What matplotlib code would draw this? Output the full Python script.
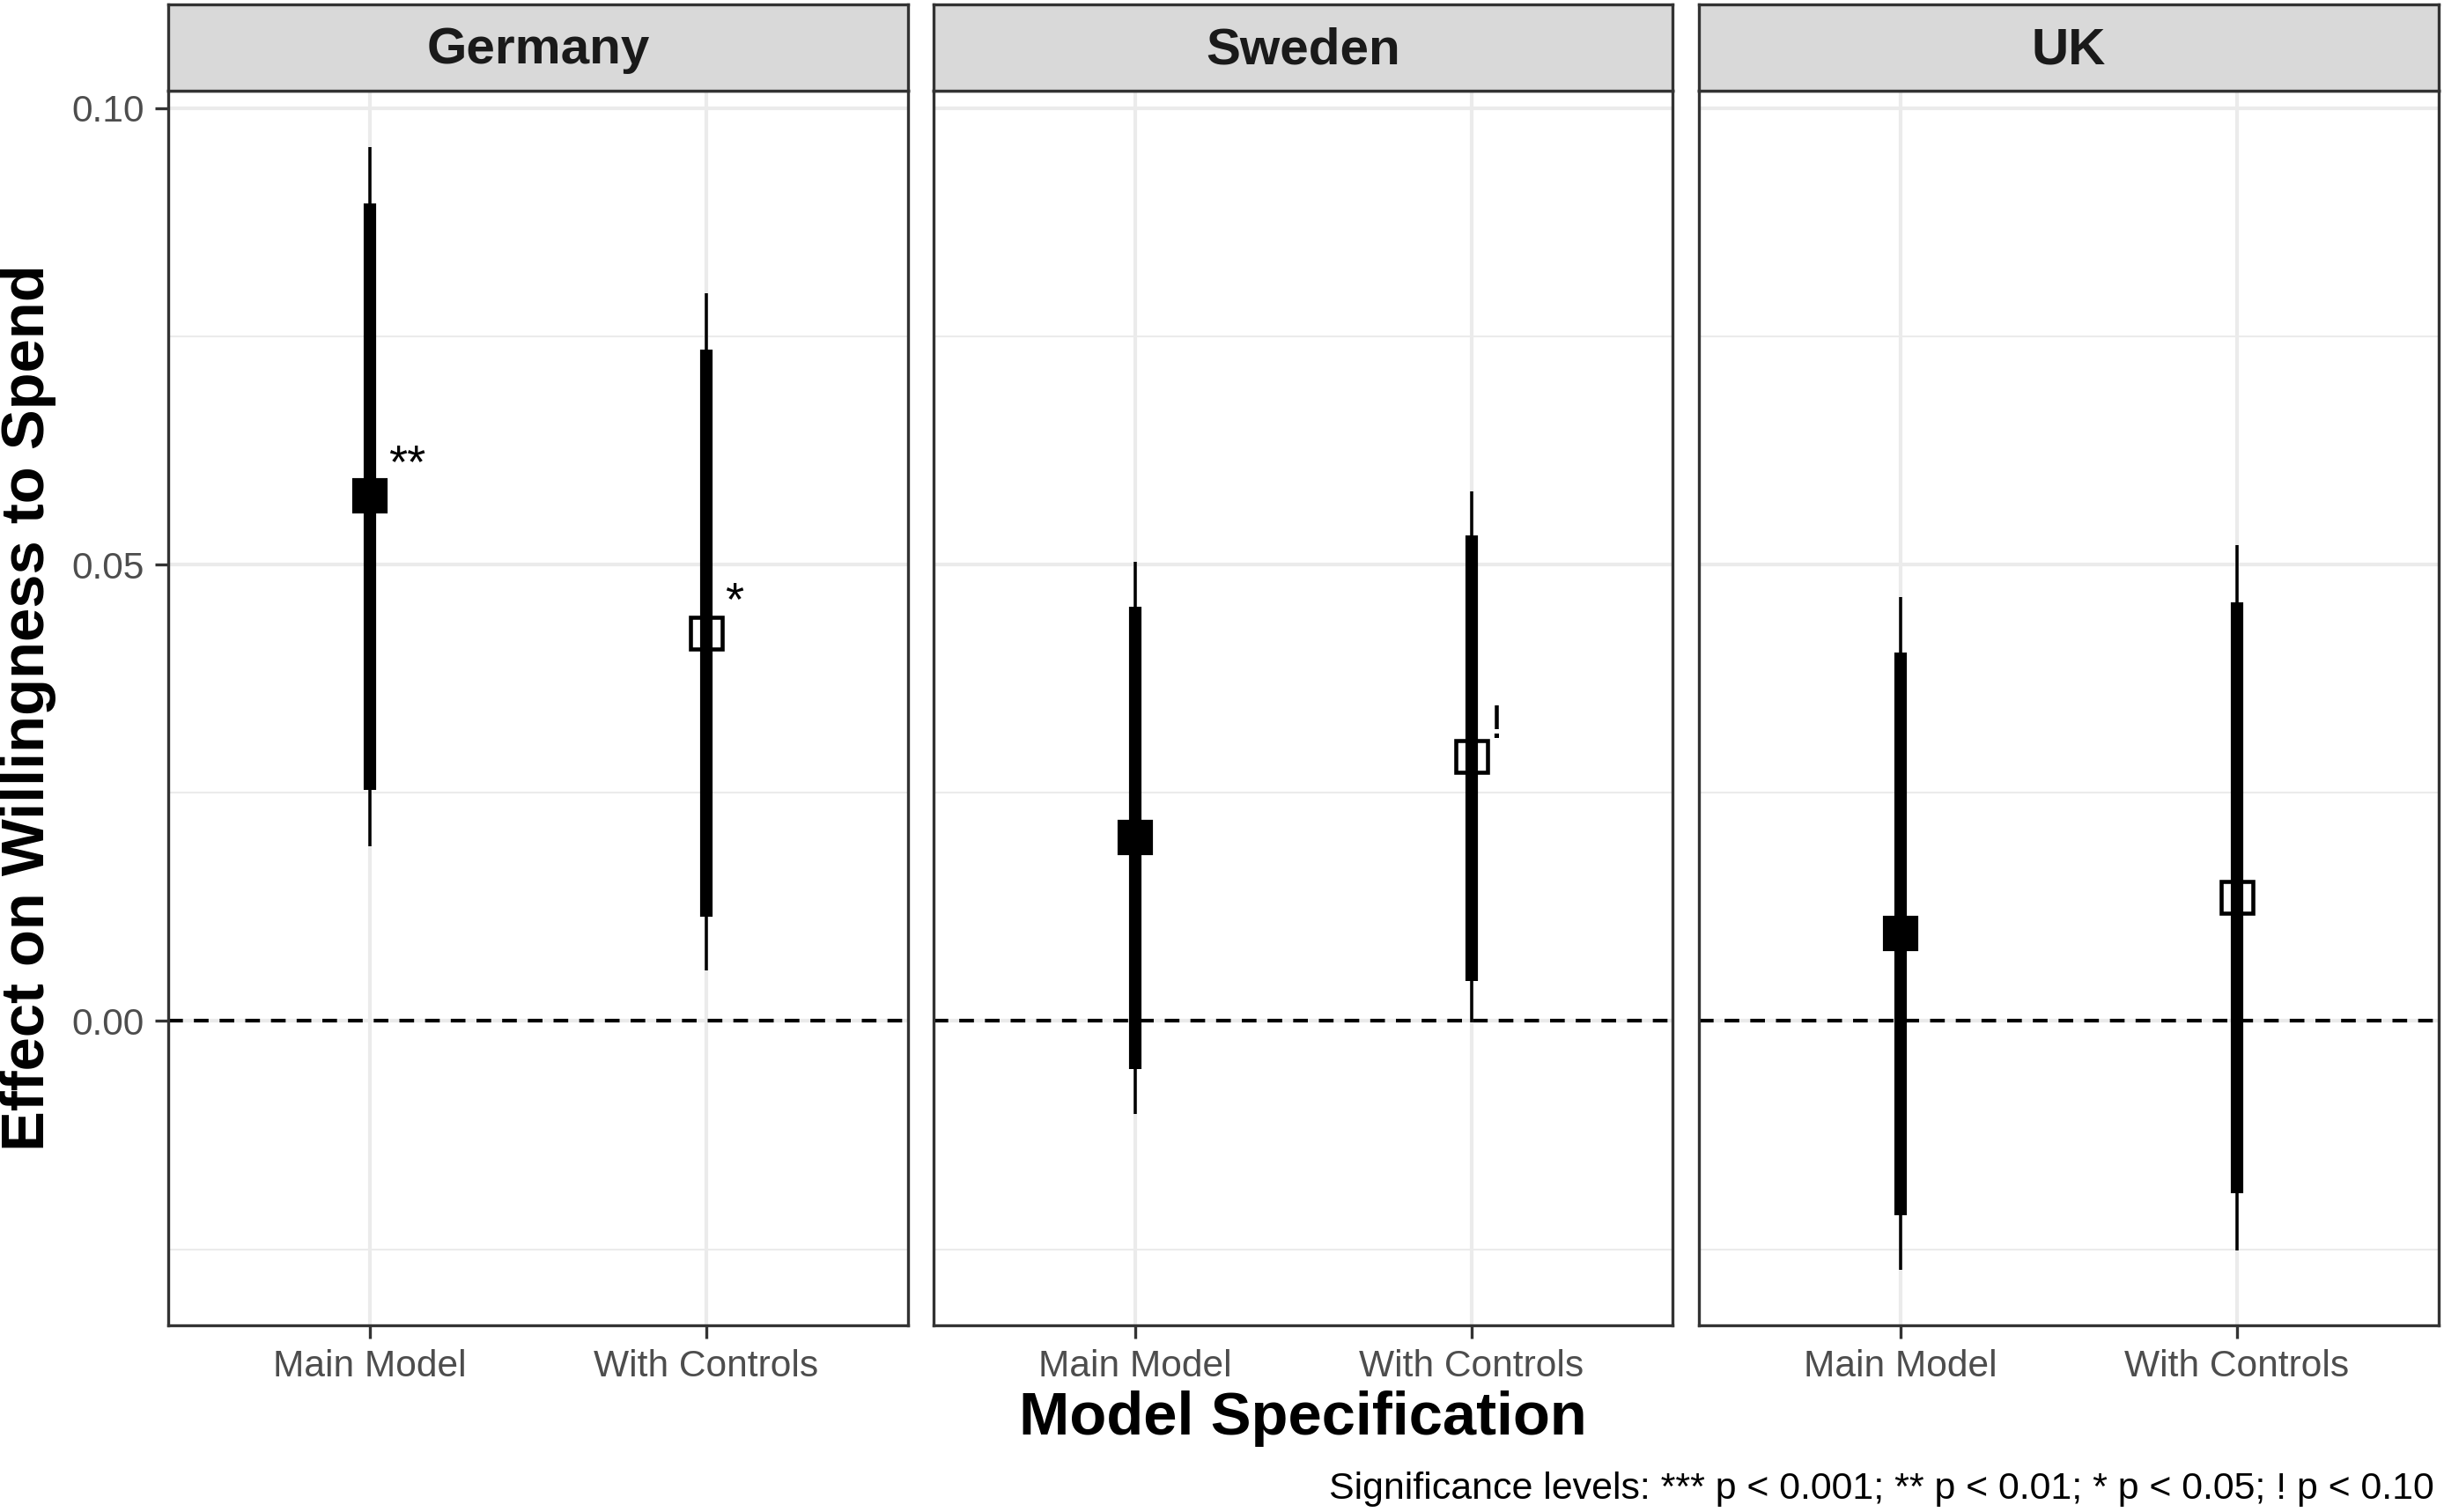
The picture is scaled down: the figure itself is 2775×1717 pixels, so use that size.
import matplotlib.pyplot as plt
import numpy as np

plt.rcParams['font.family'] = ['Liberation Sans', 'DejaVu Sans']

countries = ['Germany', 'Sweden', 'UK']
models = ['Main Model', 'With Controls']

# point estimates, inner (thick) and outer (thin) intervals per country: [main, controls]
est = {'Germany': [0.0575, 0.0425], 'Sweden': [0.0201, 0.0290], 'UK': [0.0096, 0.0135]}
inner_lo = {'Germany': [0.0253, 0.0114], 'Sweden': [-0.0053, 0.0044], 'UK': [-0.0213, -0.0189]}
inner_hi = {'Germany': [0.0896, 0.0735], 'Sweden': [0.0454, 0.0532], 'UK': [0.0404, 0.0459]}
outer_lo = {'Germany': [0.0191, 0.0055], 'Sweden': [-0.0102, -0.0002], 'UK': [-0.0273, -0.0251]}
outer_hi = {'Germany': [0.0957, 0.0797], 'Sweden': [0.0503, 0.0580], 'UK': [0.0464, 0.0521]}
sig = {'Germany': ['**', '*'], 'Sweden': ['', '!'], 'UK': ['', '']}

yticks = [0.0, 0.05, 0.10]
ytick_labels = ['0.00', '0.05', '0.10']
minor_y = [-0.025, 0.025, 0.075]

W, H = 2775, 1717
fig = plt.figure(figsize=(W / 300, H / 300), dpi=300)

lefts = [0.0689, 0.382, 0.6952]
pw = 0.3025
bottom = 0.1237
ph = 0.940 - bottom
strip_h = 0.9969 - 0.940
grey20 = '#333333'
grey30 = '#4D4D4D'
grid = '#EBEBEB'

x = np.arange(1, 3)
for k, c in enumerate(countries):
	ax = fig.add_axes([lefts[k], bottom, pw, ph])
	ax.set_xlim(0.4, 2.6)
	ax.set_ylim(-0.0333, 0.1019)
	for yv in minor_y:
		ax.axhline(yv, color=grid, lw=0.5, zorder=0)
	for yv in yticks:
		ax.axhline(yv, color=grid, lw=1.0, zorder=0)
	for xv in x:
		ax.axvline(xv, color=grid, lw=1.0, zorder=0)
	ax.axhline(0, color='black', lw=1.0, ls=(0, (4, 3)), zorder=1)
	ax.vlines(x, outer_lo[c], outer_hi[c], color='black', lw=0.85, zorder=2)
	ax.vlines(x, inner_lo[c], inner_hi[c], color='black', lw=3.4, zorder=3)
	ax.plot(x[0], est[c][0], 's', ms=8.5, mfc='black', mec='black', zorder=4)
	ax.plot(x[1], est[c][1], 's', ms=8.5, mfc='none', mec='black', mew=1.1, zorder=4)
	for i in range(2):
		if sig[c][i]:
			ax.text(x[i] + 0.055, est[c][i] + 0.002, sig[c][i], ha='left', va='baseline',
				fontsize=13, color='black', zorder=5)
	ax.set_xticks(x)
	ax.set_xticklabels(models, fontsize=10.2, color=grey30)
	if k == 0:
		ax.set_yticks(yticks)
		ax.set_yticklabels(ytick_labels, fontsize=10.2, color=grey30)
	else:
		ax.set_yticks([])
	ax.tick_params(length=3.5, width=0.8, color=grey20, pad=3)
	for s in ax.spines.values():
		s.set_color(grey20)
		s.set_linewidth(0.8)

	sax = fig.add_axes([lefts[k], 0.940, pw, strip_h])
	sax.set_facecolor('#D9D9D9')
	sax.set_xticks([])
	sax.set_yticks([])
	for s in sax.spines.values():
		s.set_color(grey20)
		s.set_linewidth(0.8)
	sax.text(0.5, 0.47, c, ha='center', va='center', fontsize=14, fontweight='bold',
		color='#1A1A1A', transform=sax.transAxes)

fig.text(0.0115, 0.532, 'Effect on Willingness to Spend', rotation=90, ha='center', va='center',
	fontsize=16.5, fontweight='bold')
fig.text(0.533, 0.062, 'Model Specification', ha='center', va='center', fontsize=16.5, fontweight='bold')
fig.text(0.996, 0.015, 'Significance levels: *** p < 0.001; ** p < 0.01; * p < 0.05; ! p < 0.10',
	ha='right', va='center', fontsize=10.3)

fig.savefig('out.png', dpi=300)
